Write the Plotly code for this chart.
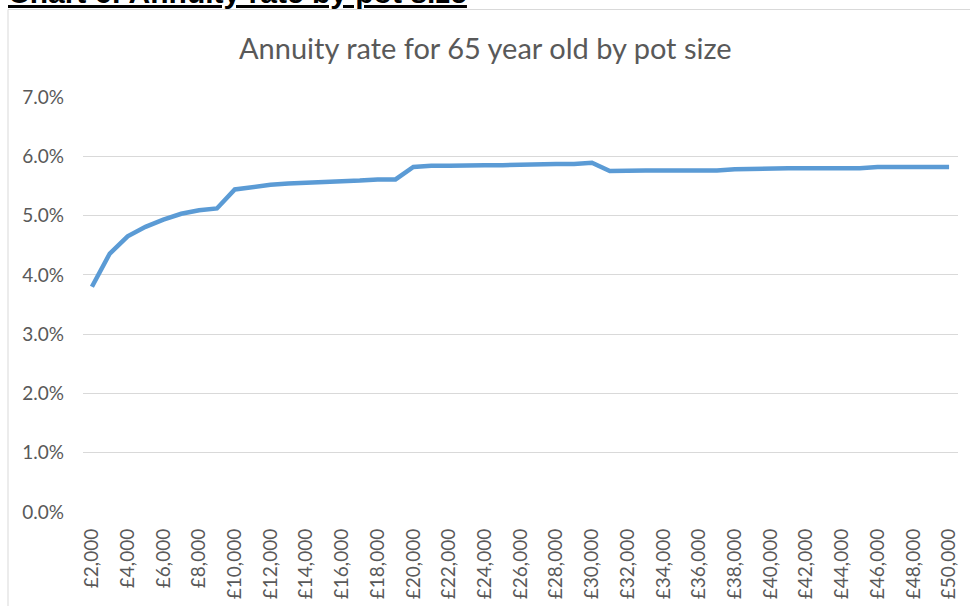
import plotly.graph_objects as go

pot_sizes = [f"£{v:,}" for v in range(2000, 50001, 1000)]
annuity_rate = [
    3.80, 4.36, 4.65, 4.81, 4.93, 5.03, 5.09, 5.12,           # 2k-9k
    5.44, 5.48, 5.52, 5.54, 5.55, 5.57, 5.58, 5.59, 5.61, 5.61,  # 10k-19k
    5.82, 5.84, 5.84, 5.85, 5.85, 5.85, 5.86, 5.87, 5.87, 5.87, 5.89,  # 20k-30k
    5.75, 5.76, 5.76, 5.76, 5.76, 5.76, 5.76, 5.78, 5.79,     # 31k-39k
    5.80, 5.80, 5.80, 5.80, 5.80, 5.80, 5.82, 5.82, 5.82, 5.82, 5.82,  # 40k-50k
]
x_tick_labels = pot_sizes[::2]
y_ticks = [0, 1, 2, 3, 4, 5, 6, 7]

title_text = "Annuity rate for 65 year old by pot size"
header_text = "Chart 6: Annuity rate by pot size"

TEXT = "#595959"
GRID = "#D9D9D9"

fig = go.Figure()
fig.add_trace(go.Scatter(
    x=pot_sizes, y=annuity_rate, mode="lines",
    line=dict(color="#5B9BD5", width=4.5, shape="linear"),
    hoverinfo="x+y",
))

L, R, T, B = 83, 12, 97, 94
W, H = 970, 606
pw, ph = W - L - R, H - T - B

def px_x(p):
    return (p - L) / pw

def px_y(p):
    return (H - B - p) / ph

fig.update_layout(
    width=W, height=H,
    margin=dict(l=L, r=R, t=T, b=B, pad=0, autoexpand=False),
    paper_bgcolor="white", plot_bgcolor="white",
    showlegend=False,
    font=dict(family="Lato, Carlito, Calibri, sans-serif", color=TEXT),
    xaxis=dict(
        type="category", categoryorder="array", categoryarray=pot_sizes,
        range=[-0.5, len(pot_sizes) - 0.5],
        tickmode="array", tickvals=x_tick_labels, ticktext=x_tick_labels,
        tickangle=-90, tickfont=dict(size=19, color=TEXT),
        showgrid=False, showline=False, zeroline=False, ticks="",
        ticklabelstandoff=12, automargin=False,
    ),
    yaxis=dict(
        range=[0, 7], tickmode="array", tickvals=y_ticks,
        ticktext=[f"{v:.1f}%" for v in y_ticks],
        tickfont=dict(size=19, color=TEXT),
        showgrid=True, gridcolor=GRID, gridwidth=1,
        showline=False, zeroline=False, ticks="",
        ticklabelstandoff=18, automargin=False,
    ),
    annotations=[
        dict(text=title_text, xref="paper", yref="paper",
             x=px_x(485), y=px_y(47), xanchor="center", yanchor="middle",
             showarrow=False, font=dict(size=29, color=TEXT,
                                        family="Lato, Carlito, sans-serif")),
        dict(text=f"<b><u>{header_text}</u></b>", xref="paper", yref="paper",
             x=px_x(6), y=px_y(11), xanchor="left", yanchor="bottom",
             showarrow=False, font=dict(size=30, color="black",
                                        family="Liberation Sans, Arial, sans-serif")),
    ],
    shapes=[
        dict(type="rect", xref="paper", yref="paper",
             x0=px_x(8), x1=px_x(980), y0=px_y(620), y1=px_y(9.5),
             line=dict(color=GRID, width=1), fillcolor="rgba(0,0,0,0)",
             layer="below"),
    ],
)

fig.write_html("out.html", config={"displayModeBar": False},
               post_script="document.body.style.margin='0';document.body.style.overflow='hidden';")
